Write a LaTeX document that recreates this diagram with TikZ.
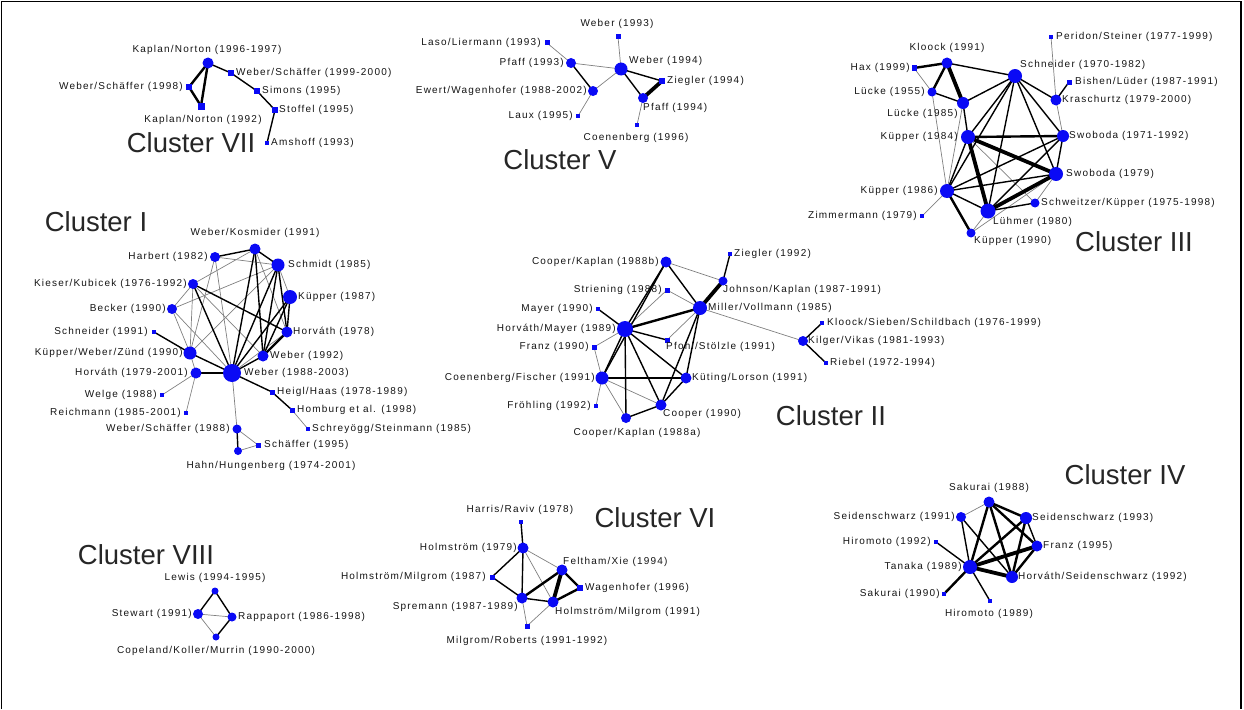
\documentclass[tikz,border=0pt]{standalone}
\usepackage{fontspec}
\setmainfont{Liberation Sans}
\newfontfamily\lblfam[LetterSpace=12]{Liberation Sans}
\newfontfamily\ttlfam{Liberation Sans}
\definecolor{nblue}{RGB}{10,10,245}
\pgfdeclarelayer{bg}
\pgfsetlayers{bg,main}
\tikzset{
 cb/.style={circle,fill=nblue,draw=none,inner sep=0pt,minimum size=#1},
 sb/.style={rectangle,fill=nblue,draw=none,inner sep=0pt,minimum size=#1},
 lbl/.style={font=\lblfam\fontsize{10}{12}\selectfont,text=black!92,inner sep=0pt},
 ttl/.style={font=\ttlfam\fontsize{27.5}{30}\selectfont,text=black!85,inner sep=0pt},
 ethin/.style={draw=black!50,line width=0.7pt},
 emed/.style={draw=black,line width=1.4pt},
 ethk/.style={draw=black,line width=2.4pt},
 evth/.style={draw=black,line width=3.8pt},
 frame/.style={draw=black,line width=1.6pt}
}
\newcommand\NL[8]{\node[#1] (#2) at (#3,#4) {}; \node[lbl,anchor=#5] (#2l) at (#6,#7) {#8};}
\begin{document}
\begin{tikzpicture}[x=1pt,y=-1pt]
\useasboundingbox (0,0) rectangle (1244,709);
\coordinate (f1) at (1.5,709);
\coordinate (f2) at (1.5,1.5);
\coordinate (f3) at (1241,1.5);
\coordinate (f4) at (1241,709);
\draw[frame] (f1) -- (f2) -- (f3) -- (f4);

% ---------- Cluster VII
\NL{cb=11}{KNa}{208}{63}{center}{207}{50}{Kaplan/Norton (1996-1997)}
\NL{sb=6}{WSa}{189}{87}{east}{183}{87}{Weber/Schäffer (1998)}
\NL{sb=7}{KNb}{201}{106}{center}{203}{120}{Kaplan/Norton (1992)}
\NL{sb=6}{WSb}{231}{73}{west}{236}{73}{Weber/Schäffer (1999-2000)}
\NL{sb=6}{Simons}{257}{91}{west}{262}{91}{Simons (1995)}
\NL{sb=6}{Stoffel}{275}{110}{west}{279}{110}{Stoffel (1995)}
\NL{sb=4}{Amshoff}{267}{143}{west}{271}{143}{Amshoff (1993)}
\node[ttl] (t7) at (191,143) {Cluster VII};

% ---------- Cluster V
\NL{sb=5}{WebA}{618}{37}{center}{617}{24}{Weber (1993)}
\NL{sb=5}{LaLi}{547}{43}{east}{541}{43}{Laso/Liermann (1993)}
\NL{cb=10}{PfA}{571}{63}{east}{564}{63}{Pfaff (1993)}
\NL{cb=13}{WebB}{621}{69}{west}{629}{61}{Weber (1994)}
\NL{sb=6}{ZiA}{662}{81}{west}{667}{81}{Ziegler (1994)}
\NL{cb=10}{PfB}{643}{98}{west}{643}{108}{Pfaff (1994)}
\NL{cb=10}{EW}{593}{91}{east}{587}{91}{Ewert/Wagenhofer (1988-2002)}
\NL{sb=4}{Laux}{578}{116}{east}{573}{116}{Laux (1995)}
\NL{sb=4}{CoA}{637}{125}{center}{636}{138}{Coenenberg (1996)}
\node[ttl] (t5) at (560,160) {Cluster V};

% ---------- Cluster III
\NL{sb=4}{Peridon}{1051}{37}{west}{1056}{37}{Peridon/Steiner (1977-1999)}
\NL{cb=11}{Kloock}{947}{63}{center}{947}{48}{Kloock (1991)}
\NL{sb=5}{Hax}{914}{68}{east}{910}{68}{Hax (1999)}
\NL{cb=14}{Schn}{1015}{76}{west}{1020}{65}{Schneider (1970-1982)}
\NL{sb=5}{Bishen}{1069}{82}{west}{1075}{82}{Bishen/Lüder (1987-1991)}
\NL{cb=9}{LuA}{932}{92}{east}{925}{92}{Lücke (1955)}
\NL{cb=11}{Krasch}{1056}{100}{west}{1062}{100}{Kraschurtz (1979-2000)}
\NL{cb=12}{LuB}{963}{103}{east}{958}{114}{Lücke (1985)}
\NL{cb=14}{KuA}{968}{137}{east}{958}{137}{Küpper (1984)}
\NL{cb=12}{SwA}{1063}{136}{west}{1069}{136}{Swoboda (1971-1992)}
\NL{cb=14}{SwB}{1056}{174}{west}{1066}{174}{Swoboda (1979)}
\NL{cb=14}{KuB}{947}{191}{east}{938}{191}{Küpper (1986)}
\NL{cb=9}{SchwK}{1035}{203}{west}{1041}{203}{Schweitzer/Küpper (1975-1998)}
\NL{sb=4}{Zimm}{922}{216}{east}{917}{216}{Zimmermann (1979)}
\NL{cb=15}{Luehm}{988}{211}{west}{993}{222}{Lühmer (1980)}
\NL{cb=9}{KuC}{971}{233}{west}{974}{241}{Küpper (1990)}
\node[ttl] (t3) at (1134,242) {Cluster III};

% ---------- Cluster I
\NL{cb=11}{WK}{255}{249}{center}{255}{233}{Weber/Kosmider (1991)}
\NL{cb=10}{Harb}{215}{257}{east}{208}{257}{Harbert (1982)}
\NL{cb=10}{Kies}{193}{284}{east}{187}{284}{Kieser/Kubicek (1976-1992)}
\NL{cb=10}{Beck}{172}{309}{east}{166}{309}{Becker (1990)}
\NL{sb=4}{SchnB}{154}{332}{east}{148}{332}{Schneider (1991)}
\NL{cb=13}{KWZ}{190}{353}{east}{183}{353}{Küpper/Weber/Zünd (1990)}
\NL{cb=11}{HoA}{196}{373}{east}{188}{373}{Horváth (1979-2001)}
\NL{cb=18}{WebC}{232}{373}{west}{244}{373}{Weber (1988-2003)}
\NL{sb=4}{Welge}{162}{395}{east}{157}{395}{Welge (1988)}
\NL{sb=4}{Reich}{186}{413}{east}{181}{413}{Reichmann (1985-2001)}
\NL{cb=9}{WSc}{237}{429}{east}{230}{429}{Weber/Schäffer (1988)}
\NL{cb=8}{HaHu}{238}{451}{center}{271}{466}{Hahn/Hungenberg (1974-2001)}
\NL{sb=5}{Schaef}{258}{445}{west}{264}{445}{Schäffer (1995)}
\NL{cb=13}{Schm}{278}{265}{west}{288}{265}{Schmidt (1985)}
\NL{cb=14}{KuD}{290}{297}{west}{298}{297}{Küpper (1987)}
\NL{cb=11}{HoB}{287}{332}{west}{293}{332}{Horváth (1978)}
\NL{cb=11}{WebD}{263}{356}{west}{270}{356}{Weber (1992)}
\NL{sb=5}{Heigl}{272}{392}{west}{277}{392}{Heigl/Haas (1978-1989)}
\NL{sb=5}{Homb}{292}{410}{west}{297}{410}{Homburg et al. (1998)}
\NL{sb=4}{Schrey}{308}{429}{west}{312}{429}{Schreyögg/Steinmann (1985)}
\node[ttl] (t1) at (96,222) {Cluster I};

% ---------- Cluster II
\NL{cb=11}{CKb}{666}{262}{east}{659}{262}{Cooper/Kaplan (1988b)}
\NL{sb=5}{Strien}{667}{290}{east}{662}{290}{Striening (1988)}
\NL{sb=4}{Mayer}{598}{309}{east}{593}{309}{Mayer (1990)}
\NL{cb=16}{HoM}{625}{329}{east}{616}{329}{Horváth/Mayer (1989)}
\NL{sb=5}{FrA}{594}{347}{east}{589}{347}{Franz (1990)}
\NL{cb=13}{CoF}{602}{378}{east}{595}{378}{Coenenberg/Fischer (1991)}
\NL{sb=4}{Froeh}{596}{406}{east}{591}{406}{Fröhling (1992)}
\NL{cb=10}{CKa}{626}{418}{center}{637}{433}{Cooper/Kaplan (1988a)}
\NL{cb=11}{Coop}{661}{405}{west}{663}{414}{Cooper (1990)}
\NL{sb=4}{ZiB}{730}{254}{west}{734}{254}{Ziegler (1992)}
\NL{cb=9}{JoK}{723}{281}{west}{723}{290}{Johnson/Kaplan (1987-1991)}
\NL{cb=14}{MiV}{700}{308}{west}{708}{308}{Miller/Vollmann (1985)}
\NL{sb=5}{PfS}{667}{340}{west}{666}{347}{Pfohl/Stölzle (1991)}
\NL{cb=11}{KuL}{686}{378}{west}{692}{378}{Küting/Lorson (1991)}
\NL{cb=10}{KiV}{803}{341}{west}{808}{341}{Kilger/Vikas (1981-1993)}
\NL{sb=4}{KSS}{822}{323}{west}{827}{323}{Kloock/Sieben/Schildbach (1976-1999)}
\NL{sb=4}{Riebel}{826}{363}{west}{830}{363}{Riebel (1972-1994)}
\node[ttl] (t2) at (831,416) {Cluster II};

% ---------- Cluster IV
\NL{cb=11}{SaA}{989}{502}{center}{989}{488}{Sakurai (1988)}
\NL{cb=10}{SeA}{961}{517}{east}{955}{517}{Seidenschwarz (1991)}
\NL{cb=12}{SeB}{1026}{518}{west}{1032}{518}{Seidenschwarz (1993)}
\NL{sb=4}{HiA}{936}{542}{east}{931}{542}{Hiromoto (1992)}
\NL{cb=11}{FrB}{1037}{546}{west}{1043}{546}{Franz (1995)}
\NL{cb=14}{Tan}{970}{567}{east}{962}{567}{Tanaka (1989)}
\NL{cb=12}{HoS}{1012}{577}{west}{1018}{577}{Horváth/Seidenschwarz (1992)}
\NL{sb=4}{SaB}{944}{594}{east}{940}{594}{Sakurai (1990)}
\NL{sb=4}{HiB}{990}{601}{center}{989}{614}{Hiromoto (1989)}
\node[ttl] (t4) at (1125,475) {Cluster IV};

% ---------- Cluster VI
\NL{sb=4}{HaR}{521}{522}{center}{520}{510}{Harris/Raviv (1978)}
\NL{cb=11}{HolA}{523}{548}{east}{517}{548}{Holmström (1979)}
\NL{sb=5}{HMa}{492}{577}{east}{486}{577}{Holmström/Milgrom (1987)}
\NL{cb=11}{FeX}{562}{570}{west}{563}{562}{Feltham/Xie (1994)}
\NL{sb=6}{Wag}{580}{588}{west}{585}{588}{Wagenhofer (1996)}
\NL{cb=11}{Spre}{522}{598}{east}{518}{607}{Spremann (1987-1989)}
\NL{cb=11}{HMb}{553}{602}{west}{555}{612}{Holmström/Milgrom (1991)}
\NL{sb=5}{MiR}{527}{626}{center}{527}{641}{Milgrom/Roberts (1991-1992)}
\node[ttl] (t6) at (655,518) {Cluster VI};

% ---------- Cluster VIII
\NL{cb=7}{Lew}{215}{591}{center}{215}{578}{Lewis (1994-1995)}
\NL{cb=10}{Stew}{198}{614}{east}{192}{614}{Stewart (1991)}
\NL{cb=9}{Rapp}{232}{617}{west}{238}{617}{Rappaport (1986-1998)}
\NL{cb=7}{CKM}{216}{637}{center}{216}{651}{Copeland/Koller/Murrin (1990-2000)}
\node[ttl] (t8) at (146,555) {Cluster VIII};

\begin{pgfonlayer}{bg}
% thin edges
\foreach \a/\b in {LaLi/PfA,PfA/WebB,EW/WebB,EW/Laux,WebA/WebB,PfB/CoA,
  Hax/LuA,Peridon/Krasch,Krasch/SwA,LuB/KuB,LuA/KuB,KuA/SchwK,SwB/SchwK,KuB/Zimm,KuC/SwB,KuC/Luehm,
  WK/Kies,WK/HoB,Harb/WebC,Harb/KWZ,Harb/Schm,Kies/KWZ,Kies/WebD,Kies/Beck,Beck/WebC,Beck/Schm,Beck/KWZ,
  KWZ/Schm,KWZ/HoA,Welge/HoA,Reich/HoA,Schm/KuD,HoB/WebC,Homb/Schrey,WebC/WSc,WSc/Schaef,HaHu/Schaef,
  CKb/JoK,Strien/HoM,Strien/MiV,HoM/FrA,FrA/CoF,CoF/Froeh,CoF/Coop,CoF/CKa,MiV/KiV,MiV/PfS,
  SaA/SeA,HolA/FeX,HolA/HMb,Spre/MiR,MiR/HMb,Stew/Rapp,Stew/CKM}
  \draw[ethin] (\a.center) -- (\b.center);
% medium edges
\foreach \a/\b in {KNa/WSb,WSb/Simons,Simons/Stoffel,Stoffel/Amshoff,
  PfA/EW,WebB/ZiA,WebB/PfB,
  Kloock/Schn,LuA/LuB,LuB/Schn,LuB/KuA,Schn/Krasch,Schn/KuA,Schn/KuB,Schn/Luehm,Schn/SwA,Schn/SwB,
  Bishen/Krasch,KuA/KuB,KuB/SwB,KuB/Luehm,Luehm/SwA,SwA/SwB,Luehm/SchwK,KuB/SwA,
  WK/Harb,WK/Schm,WK/WebC,WK/WebD,Kies/WebC,Kies/HoB,SchnB/KWZ,KWZ/WebC,Schm/HoB,Schm/WebD,Schm/WebC,
  KuD/HoB,KuD/WebD,KuD/WebC,WebD/WebC,WebC/Heigl,Heigl/Homb,WSc/HaHu,
  CKb/HoM,CKb/MiV,CKb/CoF,Mayer/HoM,HoM/PfS,HoM/CoF,HoM/CKa,HoM/Coop,HoM/KuL,CKa/Coop,Coop/KuL,
  Coop/MiV,KuL/MiV,JoK/ZiB,KiV/KSS,KiV/Riebel,
  SeA/Tan,SeA/HoS,SeB/FrB,Tan/HiB,Tan/HiA,
  HaR/HolA,HolA/HMa,HolA/Spre,HMa/Spre,Spre/HMb,
  Lew/Stew,Lew/Rapp,Rapp/CKM}
  \draw[emed] (\a.center) -- (\b.center);
% thick edges
\foreach \a/\b in {KNa/WSa,KNa/KNb,WSa/KNb,
  Hax/Kloock,Kloock/LuA,KuA/SwA,KuB/KuC,
  HoA/WebC,HoB/WebD,
  HoM/MiV,CoF/KuL,
  SaA/SeB,SaA/FrB,SaA/Tan,SaA/HoS,SeB/Tan,SeB/HoS,FrB/HoS,Tan/SaB,
  Spre/FeX,FeX/Wag,Wag/HMb}
  \draw[ethk] (\a.center) -- (\b.center);
% very thick edges
\foreach \a/\b in {ZiA/PfB,Kloock/LuB,KuA/SwB,KuA/Luehm,Luehm/SwB,MiV/JoK,Tan/HoS,FrB/Tan,FeX/HMb}
  \draw[evth] (\a.center) -- (\b.center);
\end{pgfonlayer}
\end{tikzpicture}
\end{document}
